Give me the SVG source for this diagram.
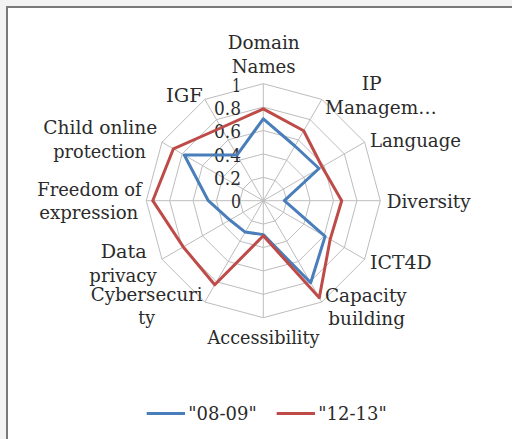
<svg xmlns="http://www.w3.org/2000/svg" width="512" height="439" viewBox="0 0 512 439">
<style>
.lbl{font-family:"DejaVu Serif","Liberation Serif",serif;font-size:18px;fill:#2b2b2b}
.val{font-family:"DejaVu Serif","Liberation Serif",serif;font-size:18px;fill:#2b2b2b;text-anchor:end}
.grid{fill:none;stroke:#bdbdbd;stroke-width:1}
.s1{fill:none;stroke:#4a7ebb;stroke-width:3;stroke-linejoin:round}
.s2{fill:none;stroke:#be4b48;stroke-width:3;stroke-linejoin:round}
</style>
<rect x="0" y="0" width="512" height="439" fill="#f3f3f3"/>
<rect x="7" y="7" width="520" height="450" fill="#ffffff" stroke="#7a7a7a" stroke-width="2"/>
<g id="grid" transform="translate(263.3,200.7)">
<polygon class="grid" points="0,-117 58.5,-101.32 101.32,-58.5 117,0 101.32,58.5 58.5,101.32 0,117 -58.5,101.32 -101.32,58.5 -117,0 -101.32,-58.5 -58.5,-101.32"/>
<polygon class="grid" points="0,-93.6 46.8,-81.06 81.06,-46.8 93.6,0 81.06,46.8 46.8,81.06 0,93.6 -46.8,81.06 -81.06,46.8 -93.6,0 -81.06,-46.8 -46.8,-81.06"/>
<polygon class="grid" points="0,-70.2 35.1,-60.79 60.79,-35.1 70.2,0 60.79,35.1 35.1,60.79 0,70.2 -35.1,60.79 -60.79,35.1 -70.2,0 -60.79,-35.1 -35.1,-60.79"/>
<polygon class="grid" points="0,-46.8 23.4,-40.53 40.53,-23.4 46.8,0 40.53,23.4 23.4,40.53 0,46.8 -23.4,40.53 -40.53,23.4 -46.8,0 -40.53,-23.4 -23.4,-40.53"/>
<polygon class="grid" points="0,-23.4 11.7,-20.26 20.26,-11.7 23.4,0 20.26,11.7 11.7,20.26 0,23.4 -11.7,20.26 -20.26,11.7 -23.4,0 -20.26,-11.7 -11.7,-20.26"/>
<path class="grid" d="M0,0L0,-117M0,0L58.5,-101.32M0,0L101.32,-58.5M0,0L117,0M0,0L101.32,58.5M0,0L58.5,101.32M0,0L0,117M0,0L-58.5,101.32M0,0L-101.32,58.5M0,0L-117,0M0,0L-101.32,-58.5M0,0L-58.5,-101.32"/>
</g>
<g id="values">
<text class="val" x="241" y="91.5" textLength="9" lengthAdjust="spacingAndGlyphs">1</text>
<text class="val" x="241" y="114.5" textLength="27" lengthAdjust="spacingAndGlyphs">0.8</text>
<text class="val" x="241" y="138" textLength="27" lengthAdjust="spacingAndGlyphs">0.6</text>
<text class="val" x="241" y="161.5" textLength="27" lengthAdjust="spacingAndGlyphs">0.4</text>
<text class="val" x="241" y="185" textLength="27" lengthAdjust="spacingAndGlyphs">0.2</text>
<text class="val" x="241" y="208.3" textLength="10" lengthAdjust="spacingAndGlyphs">0</text>
</g>
<g id="connectors" transform="translate(263.3,200.7)">
<polygon id="series-0809" class="s1" points="0,-81.9 31.59,-54.71 55.73,-32.18 21.06,0 61.81,35.69 47.39,82.07 0,33.93 -18.14,31.41 -33.44,19.31 -54.99,0 -79.03,-45.63 -26.33,-45.6"/>
<polygon id="series-1213" class="s2" points="0,-91.85 40.37,-69.91 58.77,-33.93 78.39,0 66.87,38.61 55.98,96.97 0,35.1 -48.56,84.1 -80.05,46.22 -110.57,0 -89.88,-51.89 -42.12,-72.95"/>
</g>
<g id="axis-labels">
<g id="n-domain"><text class="lbl" x="227.7" y="48.5" textLength="72" lengthAdjust="spacingAndGlyphs">Domain</text><text class="lbl" x="231.7" y="72.5" textLength="64" lengthAdjust="spacingAndGlyphs">Names</text></g>
<g id="n-ip"><text class="lbl" x="361.7" y="89.5" textLength="20" lengthAdjust="spacingAndGlyphs">IP</text><text class="lbl" x="325" y="114" textLength="111.7" lengthAdjust="spacingAndGlyphs">Managem…</text></g>
<g id="n-language"><text class="lbl" x="370" y="147.3" textLength="91" lengthAdjust="spacingAndGlyphs">Language</text></g>
<g id="n-diversity"><text class="lbl" x="386.7" y="207.7" textLength="84" lengthAdjust="spacingAndGlyphs">Diversity</text></g>
<g id="n-ict4d"><text class="lbl" x="370" y="269.3" textLength="61.7" lengthAdjust="spacingAndGlyphs">ICT4D</text></g>
<g id="n-capacity"><text class="lbl" x="325" y="301.7" textLength="81.7" lengthAdjust="spacingAndGlyphs">Capacity</text><text class="lbl" x="328.3" y="325" textLength="76.7" lengthAdjust="spacingAndGlyphs">building</text></g>
<g id="n-accessibility"><text class="lbl" x="207.5" y="343.5" textLength="112" lengthAdjust="spacingAndGlyphs">Accessibility</text></g>
<g id="n-cyber"><text class="lbl" x="90.7" y="301.3" textLength="112" lengthAdjust="spacingAndGlyphs">Cybersecuri</text><text class="lbl" x="138.3" y="324" textLength="16.7" lengthAdjust="spacingAndGlyphs">ty</text></g>
<g id="n-privacy"><text class="lbl" x="100.7" y="257.5" textLength="46" lengthAdjust="spacingAndGlyphs">Data</text><text class="lbl" x="89.3" y="282" textLength="67.4" lengthAdjust="spacingAndGlyphs">privacy</text></g>
<g id="n-freedom"><text class="lbl" x="37.3" y="195.8" textLength="104.4" lengthAdjust="spacingAndGlyphs">Freedom of</text><text class="lbl" x="39.3" y="218.5" textLength="99" lengthAdjust="spacingAndGlyphs">expression</text></g>
<g id="n-child"><text class="lbl" x="43.3" y="133.8" textLength="114" lengthAdjust="spacingAndGlyphs">Child online</text><text class="lbl" x="53.3" y="158.3" textLength="92.7" lengthAdjust="spacingAndGlyphs">protection</text></g>
<g id="n-igf"><text class="lbl" x="166" y="101.5" textLength="36.7" lengthAdjust="spacingAndGlyphs">IGF</text></g>
</g>
<g id="legend">
<line x1="146.7" y1="413.5" x2="185" y2="413.5" stroke="#4a7ebb" stroke-width="3"/>
<text class="lbl" x="188.3" y="419.5" textLength="68.4" lengthAdjust="spacingAndGlyphs">"08-09"</text>
<line x1="276.7" y1="413.5" x2="315" y2="413.5" stroke="#be4b48" stroke-width="3"/>
<text class="lbl" x="318.3" y="419.5" textLength="68.4" lengthAdjust="spacingAndGlyphs">"12-13"</text>
</g>
</svg>
